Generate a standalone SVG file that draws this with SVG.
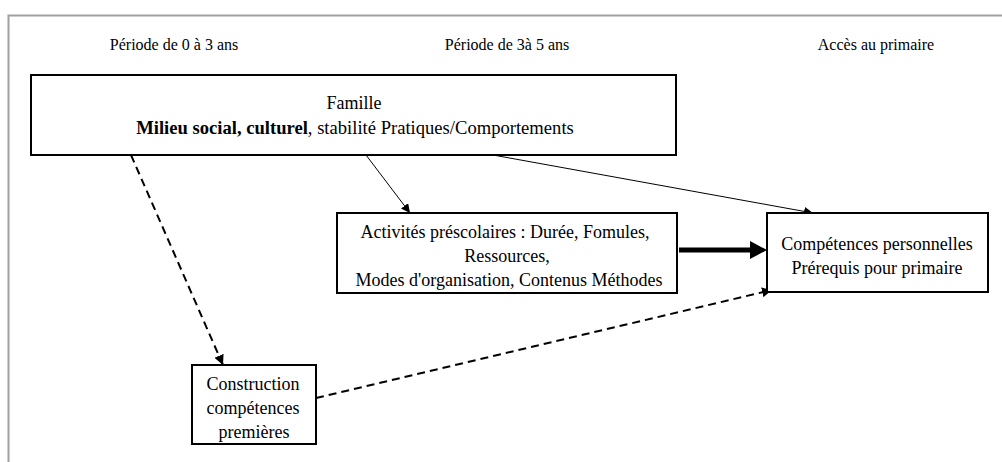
<svg xmlns="http://www.w3.org/2000/svg" width="1002" height="462" viewBox="0 0 1002 462" font-family="'Liberation Serif', 'Times New Roman', serif">
<style>
text{font-family:'Liberation Serif','Times New Roman',serif;fill:#000;text-anchor:middle}
.h{font-size:16px}
.t{font-size:18px}
.t2{font-size:18.6px}
.box{fill:#fff;stroke:#000;stroke-width:2}
.thin{stroke:#000;stroke-width:1;fill:none}
.dash{stroke:#000;stroke-width:2;fill:none;stroke-dasharray:8 5}
</style>
<defs>
<marker id="ah" viewBox="0 0 10 10" refX="10" refY="5" markerWidth="9" markerHeight="9" markerUnits="userSpaceOnUse" orient="auto">
<path d="M0,0 L10,5 L0,10 z" fill="#000"/>
</marker>
<marker id="ahd" viewBox="0 0 10 10" refX="10" refY="5" markerWidth="5" markerHeight="5" orient="auto">
<path d="M0,0 L10,5 L0,10 z" fill="#000"/>
</marker>
</defs>
<rect width="1002" height="462" fill="#fff"/>
<path d="M8.5,462 V15.5 H1002" fill="none" stroke="#a0a0a0" stroke-width="2"/>
<g id="headers">
<text class="h" x="174" y="50">Période de 0 à 3 ans</text>
<text class="h" x="507" y="50">Période de 3à 5 ans</text>
<text class="h" x="876" y="50">Accès au primaire</text>
</g>
<g id="connectors">
<line class="thin" x1="366" y1="155" x2="410" y2="213" marker-end="url(#ah)"/>
<line class="thin" x1="493" y1="155" x2="813" y2="213" marker-end="url(#ah)"/>
<line class="dash" x1="131" y1="155" x2="223" y2="365" marker-end="url(#ahd)"/>
<line class="dash" x1="316" y1="398" x2="772" y2="290" marker-end="url(#ahd)"/>
<line x1="679" y1="250" x2="752" y2="250" stroke="#000" stroke-width="5"/>
<path d="M750,241 L767,250 L750,259 z" fill="#000"/>
</g>
<g id="famille">
<rect class="box" x="31" y="75" width="645" height="80"/>
<text class="t" x="354" y="109">Famille</text>
<text class="t2" x="355" y="134"><tspan font-weight="bold">Milieu social, culturel</tspan>, stabilité Pratiques/Comportements</text>
</g>
<g id="activites">
<rect class="box" x="337" y="213" width="340" height="80"/>
<text class="t" x="505" y="238">Activités préscolaires : Durée, Fomules,</text>
<text class="t" x="507" y="262">Ressources,</text>
<text class="t" x="509" y="286">Modes d'organisation, Contenus Méthodes</text>
</g>
<g id="competences">
<rect class="box" x="767" y="213" width="221" height="79"/>
<text class="t" x="877" y="250">Compétences personnelles</text>
<text class="t" x="877" y="274">Prérequis pour primaire</text>
</g>
<g id="construction">
<rect class="box" x="192" y="365" width="124" height="79"/>
<text class="t" x="253" y="390">Construction</text>
<text class="t" x="253" y="414">compétences</text>
<text class="t" x="254" y="438">premières</text>
</g>
</svg>
